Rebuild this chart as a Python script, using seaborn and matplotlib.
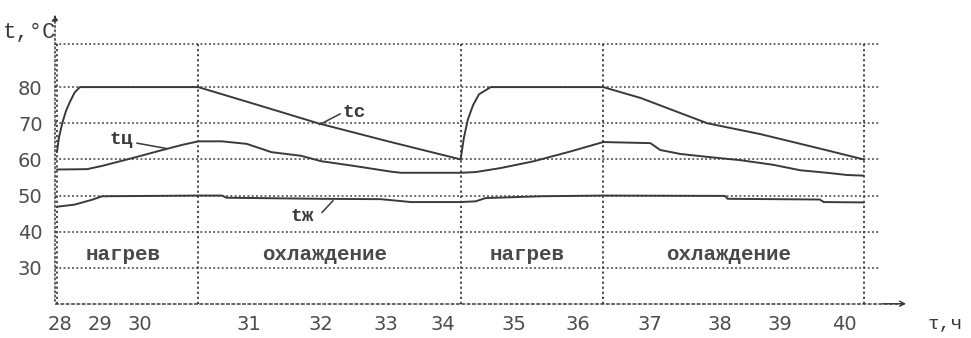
import matplotlib
matplotlib.use("Agg")
import matplotlib.pyplot as plt
import seaborn as sns
import pandas as pd

# Time (hours) and temperatures (°C) of the three media over two heat/cool cycles
tc_time = [28.00, 28.03, 28.08, 28.14, 28.20, 28.27, 28.35, 30.16, 31.08, 31.99,
           33.06, 34.17, 34.22, 34.28, 34.36, 34.45, 34.63, 36.35, 36.92,
           37.94, 38.75, 39.66, 40.33]
tc_temp = [62, 66, 70, 73.5, 76, 78.5, 80, 80, 75, 70,
           65, 60, 66, 71, 75, 78, 80, 80, 77.0,
           70, 67, 63, 60]

tz_time = [28.00, 28.46, 28.69, 29.14, 29.55, 29.91, 30.16, 30.52, 30.90, 31.28,
           31.73, 32.04, 32.54, 33.11, 33.26, 34.17, 34.40, 34.78, 35.29, 35.85,
           36.35, 37.07, 37.22, 37.53, 37.94, 38.44, 38.95, 39.36, 39.77, 40.07, 40.33]
tz_temp = [57.2, 57.3, 58.2, 60.3, 62.3, 64.0, 65.0, 65.0, 64.3, 62.0,
           61.0, 59.5, 58.2, 56.6, 56.3, 56.3, 56.5, 57.6, 59.5, 62.2,
           64.8, 64.5, 62.6, 61.5, 60.7, 59.8, 58.5, 57.0, 56.3, 55.7, 55.5]

tzh_time = [28.00, 28.27, 28.53, 28.69, 30.16, 30.52, 30.59, 32.04, 32.95, 33.41,
            34.17, 34.40, 34.55, 35.39, 36.35, 38.21, 38.25, 39.66, 39.72, 40.33]
tzh_temp = [46.9, 47.5, 48.8, 49.8, 50.0, 50.0, 49.4, 49.1, 49.0, 48.2,
            48.2, 48.4, 49.3, 49.8, 50.0, 49.9, 49.1, 48.9, 48.2, 48.1]

# Phase boundaries and names
phase_edges = [28.0, 30.16, 34.17, 36.35, 40.33]
phase_names = ["нагрев", "охлаждение", "нагрев", "охлаждение"]

# Axis ticks
ytick_values = [30, 40, 50, 60, 70, 80]
xtick_labels = ["28", "29", "30", "31", "32", "33", "34", "35", "36", "37", "38", "39", "40"]
xtick_pos = [28.05, 28.66, 29.27, 30.94, 32.04, 33.03, 33.90, 34.98, 35.96, 37.07,
             38.14, 39.05, 40.04]

df = pd.concat([
    pd.DataFrame({"t": tc_time, "T": tc_temp, "s": "tc"}),
    pd.DataFrame({"t": tz_time, "T": tz_temp, "s": "tц"}),
    pd.DataFrame({"t": tzh_time, "T": tzh_temp, "s": "tж"}),
])

sns.set_theme(style="white")
plt.rcParams["font.family"] = ["DejaVu Sans"]

ink = "#3a3a3a"
fig = plt.figure(figsize=(9.71, 3.38), dpi=100)
ax = fig.add_axes([55 / 971, 1 - 304 / 338, 825 / 971, 261 / 338])
ax.set_xlim(27.97, 40.58)
ax.set_ylim(20, 92.2)
for sp in ax.spines.values():
    sp.set_visible(False)

dot = (0, (1.2, 1.6))
# horizontal grid
for v in ytick_values + [92.0]:
    ax.axhline(v, color=ink, lw=1.1, ls=dot, zorder=1)
ax.plot([27.97, 40.95], [20.1, 20.1], color=ink, lw=1.1, ls=(0, (2.5, 1)),
        clip_on=False, zorder=1)
# vertical phase boundaries
for e in phase_edges:
    ax.axvline(e, color=ink, lw=1.3, ls=dot, zorder=1)

sns.lineplot(data=df, x="t", y="T", units="s", estimator=None, sort=False,
             color=ink, lw=1.4, ax=ax, zorder=3)

# phase labels
mono = dict(family="Liberation Mono", weight="bold", color="#4a4a4a", fontsize=15)
for a, b, name in zip(phase_edges[:-1], phase_edges[1:], phase_names):
    ax.text((a + b) / 2 - 0.07, 33.6, name, ha="center", va="center", **mono)

# series labels with leaders
lab = dict(family="Liberation Mono", weight="bold", color="#3a3a3a", fontsize=14,
           ha="center", va="center")
ax.text(32.55, 72.9, "tc", **lab)
ax.plot([32.33, 32.01], [72.6, 69.6], color=ink, lw=1.1)
ax.text(28.99, 65.5, "tц", **lab)
ax.plot([29.22, 29.68], [64.5, 63.0], color=ink, lw=1.1)
ax.text(31.75, 44.2, "tж", **lab)
ax.plot([32.05, 32.22], [45.3, 48.6], color=ink, lw=1.1)

ax.set_xticks(xtick_pos)
ax.set_xticklabels(xtick_labels)
ax.set_yticks(ytick_values)
ax.set_yticklabels([str(v) for v in ytick_values])
ax.tick_params(axis="both", length=0, labelsize=14, colors="#4d4d4d")
ax.tick_params(axis="x", pad=8)
ax.tick_params(axis="y", pad=9)
ax.set_xlabel("")
ax.set_ylabel("")

# axis arrows and captions
ax.annotate("", xy=(0, 1.12), xytext=(0, 0), xycoords="axes fraction",
            arrowprops=dict(arrowstyle="-|>", color=ink, lw=1.1, ls=dot,
                            mutation_scale=9), annotation_clip=False)
ax.annotate("", xy=(1.035, 0.001), xytext=(1.0, 0.001), xycoords="axes fraction",
            arrowprops=dict(arrowstyle="->", color=ink, lw=1.0, mutation_scale=9),
            annotation_clip=False)
fig.text(30 / 971, 1 - 32 / 338, "t,°C", ha="center", va="center",
         family="Liberation Mono", fontsize=16, color="#3a3a3a")
fig.text(945 / 971, 1 - 325 / 338, "τ,ч", ha="center", va="center",
         family="Liberation Mono", fontsize=14, color="#3a3a3a")

fig.savefig("out.png", dpi=100, facecolor="white")
